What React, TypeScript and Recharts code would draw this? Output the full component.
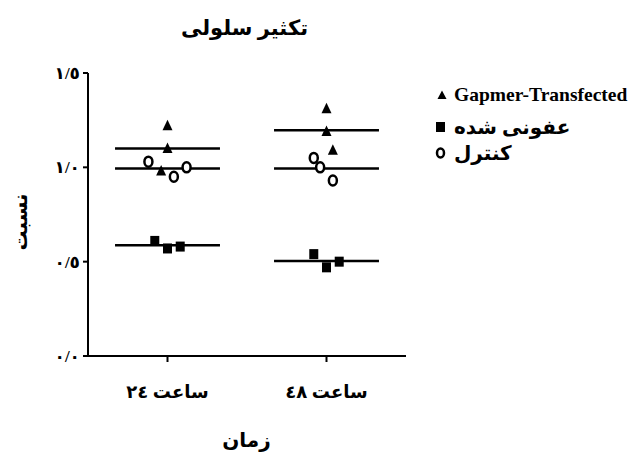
import { ScatterChart, Scatter, XAxis, YAxis, ReferenceLine } from "recharts"

const categories = ["ساعت ٢٤", "ساعت ٤٨"]
const xTicks = [1, 2]
const yTicks = [0, 0.5, 1, 1.5]
const yTickLabels = ["٠/٠", "٠/٥", "١/٠", "١/٥"]

// x = category index plus the jitter seen in the picture, y = ratio
const gapmer = [
  { x: 1.0, y: 1.22 },
  { x: 1.0, y: 1.1 },
  { x: 0.96, y: 0.98 },
  { x: 2.0, y: 1.31 },
  { x: 2.0, y: 1.19 },
  { x: 2.04, y: 1.09 },
]
const infected = [
  { x: 0.92, y: 0.61 },
  { x: 1.0, y: 0.57 },
  { x: 1.08, y: 0.58 },
  { x: 1.92, y: 0.54 },
  { x: 2.0, y: 0.47 },
  { x: 2.08, y: 0.5 },
]
const control = [
  { x: 0.88, y: 1.03 },
  { x: 1.04, y: 0.95 },
  { x: 1.12, y: 1.0 },
  { x: 1.92, y: 1.05 },
  { x: 1.96, y: 1.0 },
  { x: 2.04, y: 0.93 },
]

const seriesList = [gapmer, infected, control]

const groupMean = (pts: { x: number; y: number }[], cat: number) => {
  const g = pts.filter((p) => Math.round(p.x) === cat)
  return g.reduce((s, p) => s + p.y, 0) / g.length
}

const FONT = "'Liberation Serif', 'DejaVu Sans', serif"

// eslint-disable-next-line @typescript-eslint/no-explicit-any
const Triangle = (p: any) => (
  <polygon
    points={`${p.cx},${p.cy - 6} ${p.cx - 5},${p.cy + 4.5} ${p.cx + 5},${p.cy + 4.5}`}
    fill="#000"
  />
)
// eslint-disable-next-line @typescript-eslint/no-explicit-any
const Square = (p: any) => <rect x={p.cx - 4.5} y={p.cy - 5} width={9} height={10} fill="#000" />
// eslint-disable-next-line @typescript-eslint/no-explicit-any
const Ring = (p: any) => (
  <ellipse cx={p.cx} cy={p.cy} rx={4} ry={5} fill="#fff" stroke="#000" strokeWidth={2.5} />
)

// eslint-disable-next-line @typescript-eslint/no-explicit-any
const XTick = ({ x, y, payload }: any) => (
  <text x={x} y={y + 34} textAnchor="middle" fontSize={18} fontWeight="bold" fontFamily={FONT} fill="#000">
    {categories[payload.value - 1]}
  </text>
)

// eslint-disable-next-line @typescript-eslint/no-explicit-any
const YTick = ({ x, y, payload }: any) => (
  <text x={x - 1} y={y + 6} textAnchor="end" fontSize={17} fontWeight="bold" fontFamily={FONT} fill="#000">
    {yTickLabels[yTicks.indexOf(payload.value)]}
  </text>
)

const legendItems = [
  { label: "Gapmer-Transfected", shape: "tri", top: 95, size: 19.5 },
  { label: "عفونی شده", shape: "sq", top: 127, size: 20 },
  { label: "کنترل", shape: "ring", top: 153, size: 20 },
]

export default function App() {
  return (
    <div style={{ position: "absolute", left: 0, top: 0, width: 635, height: 456, background: "#fff", fontFamily: FONT }}>
      <div style={{ position: "absolute", left: 0, width: 489, top: 16, textAlign: "center", fontSize: 21, fontWeight: "bold" }}>
        تکثیر سلولی
      </div>
      <ScatterChart width={635} height={456} margin={{ top: 73, right: 229, bottom: 70, left: 48 }}>
        <XAxis
          type="number"
          dataKey="x"
          domain={[0.5, 2.5]}
          ticks={xTicks}
          height={30}
          stroke="#000"
          strokeWidth={2}
          tickSize={6}
          tick={<XTick />}
        />
        <YAxis
          type="number"
          dataKey="y"
          domain={[0, 1.5]}
          ticks={yTicks}
          width={40}
          stroke="#000"
          strokeWidth={2}
          tickSize={5}
          tick={<YTick />}
        />
        {seriesList.map((pts, si) =>
          xTicks.map((cat) => {
            const m = groupMean(pts, cat)
            return (
              <ReferenceLine
                key={`m${si}-${cat}`}
                segment={[
                  { x: cat - 0.33, y: m },
                  { x: cat + 0.33, y: m },
                ]}
                stroke="#000"
                strokeWidth={2.5}
              />
            )
          })
        )}
        <Scatter data={gapmer} shape={<Triangle />} isAnimationActive={false} />
        <Scatter data={infected} shape={<Square />} isAnimationActive={false} />
        <Scatter data={control} shape={<Ring />} isAnimationActive={false} />
      </ScatterChart>
      <div
        style={{
          position: "absolute",
          left: 20,
          top: 222,
          transform: "translate(-50%, -50%) rotate(-90deg)",
          fontSize: 20,
          fontWeight: "bold",
          whiteSpace: "nowrap",
        }}
      >
        نسبت
      </div>
      <div style={{ position: "absolute", left: 0, width: 493, top: 428, textAlign: "center", fontSize: 20, fontWeight: "bold" }}>
        زمان
      </div>
      {legendItems.map((it) => (
        <div
          key={it.label}
          style={{
            position: "absolute",
            left: 434,
            top: it.top,
            transform: "translateY(-50%)",
            display: "flex",
            alignItems: "center",
            fontSize: it.size,
            fontWeight: "bold",
            whiteSpace: "nowrap",
          }}
        >
          <svg width={14} height={14} style={{ marginRight: 6, flex: "none" }}>
            {it.shape === "tri" && <polygon points="8,2.5 3.5,11 12.5,11" fill="#000" />}
            {it.shape === "sq" && <rect x={2} y={2} width={9} height={10} fill="#000" />}
            {it.shape === "ring" && <ellipse cx={6.5} cy={7} rx={3.5} ry={4.5} fill="none" stroke="#000" strokeWidth={2.5} />}
          </svg>
          <span>{it.label}</span>
        </div>
      ))}
    </div>
  )
}
